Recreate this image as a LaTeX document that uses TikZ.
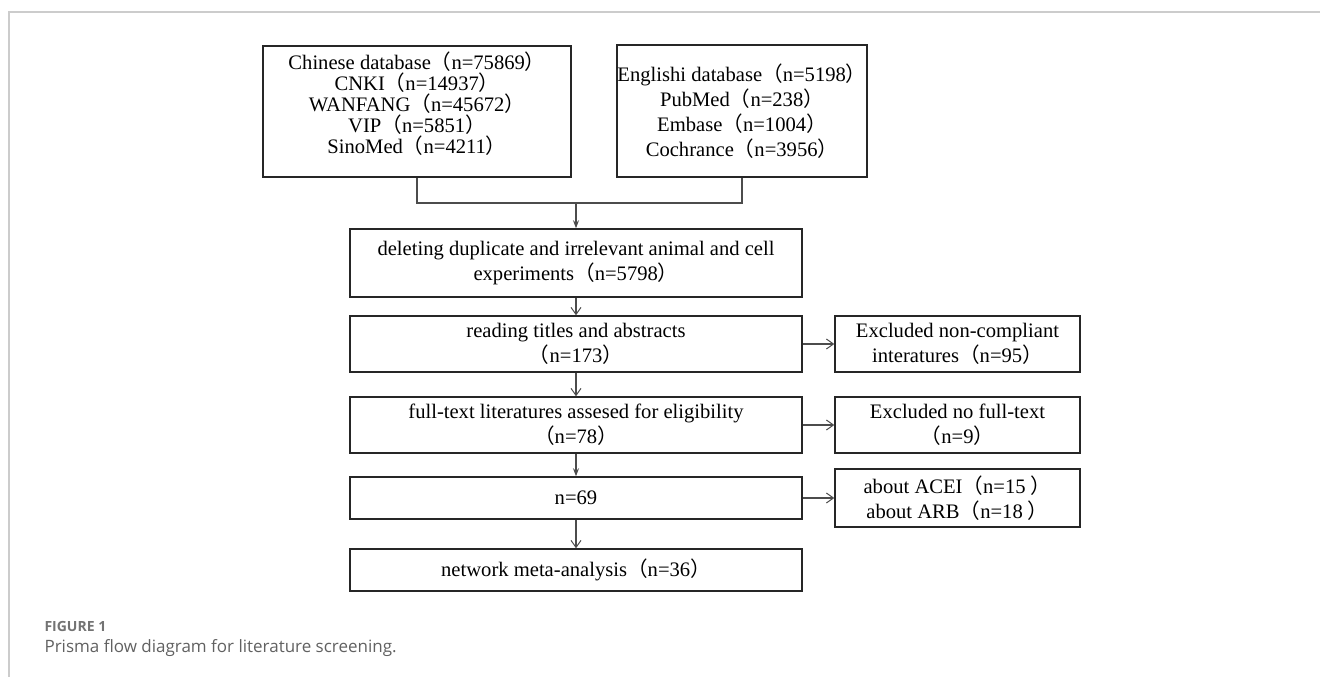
\documentclass[tikz,border=0pt]{standalone}
\usepackage{fontspec}
\setmainfont{Liberation Serif}
\newfontfamily\cjk{Noto Sans CJK SC}
\newfontfamily\capfont{Open Sans}
\usetikzlibrary{arrows.meta}
\newcommand{\zl}{{\cjk （}}
\newcommand{\zr}{{\cjk ）}}
\tikzset{
	flowbox/.style={draw=black!85, line width=1.5pt, align=center, inner sep=0pt, font=\fontsize{20.6}{25}\selectfont},
	conn/.style={draw=black!70, line width=1.1pt},
	openarr/.style={conn, -{Straight Barb[length=7pt,width=10pt,line width=1pt]}},
	fillarr/.style={conn, -{Stealth[length=8pt,width=6pt]}},
	framegray/.style={draw=black!20, line width=1.5pt}
}
\begin{document}
\begin{tikzpicture}[x=1pt,y=-1pt]
	\useasboundingbox (0,0) rectangle (1320,677);
	\draw[framegray] (9,677) -- (9,12) -- (1320,12);
	\node[flowbox, minimum width=308, minimum height=131, text depth=18pt, font=\fontsize{20.6}{21}\selectfont] (chn) at (417,111.5) {Chinese database\zl n=75869\zr\\CNKI\zl n=14937\zr\\WANFANG\zl n=45672\zr\\VIP\zl n=5851\zr\\SinoMed\zl n=4211\zr};
	\node[flowbox, minimum width=250, minimum height=132] (eng) at (742,111) {Englishi database\zl n=5198\zr\\PubMed\zl n=238\zr\\Embase\zl n=1004\zr\\Cochrance\zl n=3956\zr};
	\node[flowbox, minimum width=452, minimum height=68] (del) at (576,263) {deleting duplicate and irrelevant animal and cell\\experiments\zl n=5798\zr};
	\node[flowbox, minimum width=452, minimum height=56] (read) at (576,344) {reading titles and abstracts\\\zl n=173\zr};
	\node[flowbox, minimum width=452, minimum height=56] (full) at (576,425) {full-text literatures assesed for eligibility\\\zl n=78\zr};
	\node[flowbox, minimum width=452, minimum height=42] (sel) at (576,498) {n=69};
	\node[flowbox, minimum width=452, minimum height=42] (net) at (576,570) {network meta-analysis\zl n=36\zr};
	\node[flowbox, minimum width=245, minimum height=56] (exa) at (957.5,344) {Excluded non-compliant\\interatures\zl n=95\zr};
	\node[flowbox, minimum width=245, minimum height=56] (exb) at (957.5,425) {Excluded no full-text\\\zl n=9\zr};
	\node[flowbox, minimum width=245, minimum height=58] (exc) at (957.5,498) {about ACEI\zl n=15 \zr\\about ARB\zl n=18 \zr};
	\coordinate (mrg) at (576,203);
	\draw[conn] (chn.south) |- (mrg) -| (eng.south);
	\draw[fillarr] (mrg) -- (del.north);
	\draw[openarr] (del.south) -- (read.north);
	\draw[openarr] (read.south) -- (full.north);
	\draw[fillarr] (full.south) -- (sel.north);
	\draw[openarr] (sel.south) -- (net.north);
	\draw[openarr] (read.east) -- (exa.west);
	\draw[openarr] (full.east) -- (exb.west);
	\draw[openarr] (sel.east) -- (exc.west);
	\node[anchor=base west, font=\capfont\bfseries\fontsize{14}{16}\selectfont, text=black!55] (fig) at (41,631.5) {FIGURE 1};
	\node[anchor=base west, font=\capfont\fontsize{17}{20}\selectfont, text=black!62] (cap) at (41,652) {Prisma flow diagram for literature screening.};
\end{tikzpicture}
\end{document}
